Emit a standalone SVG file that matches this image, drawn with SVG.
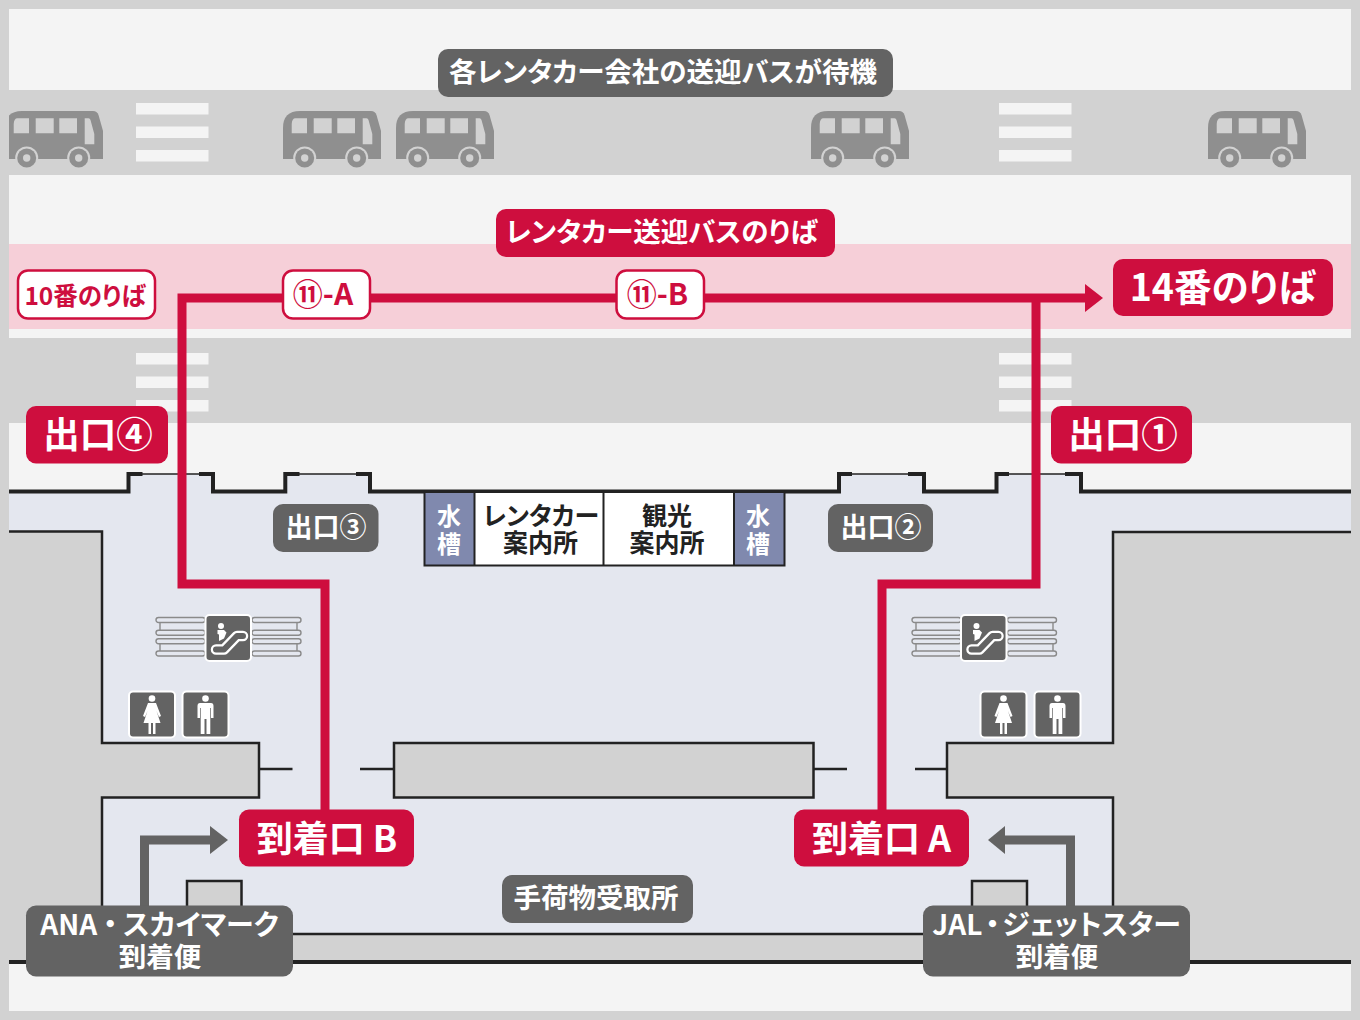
<svg xmlns="http://www.w3.org/2000/svg" width="1360" height="1020" viewBox="0 0 1360 1020">
<style>
text{font-family:"Noto Sans CJK JP","Noto Sans",sans-serif;font-weight:700;text-anchor:middle;fill:#fff;font-feature-settings:"palt"}
.red{fill:#ce0e3e}.gr{fill:#636363}
.tag{fill:#ce0e3e}
.wh{fill:#fff;stroke:#ce0e3e;stroke-width:2.5}
.stripe{fill:#f4f4f4}
.road{fill:#d2d2d2}
.wall{fill:#d2d2d2;stroke:#222;stroke-width:2.5}
.nofill{fill:#d2d2d2;stroke:none}
.thin{fill:none;stroke:#222;stroke-width:2.500}
.thick{fill:none;stroke:#222;stroke-width:4}
.door{fill:none;stroke:#222;stroke-width:1.500}
.rl{fill:none;stroke:#ce0e3e;stroke-width:9;stroke-linejoin:miter}
.gl{fill:none;stroke:#636363;stroke-width:9}
.rail{fill:#e4e7ef;stroke:#8a8a8a;stroke-width:1.400}
.ink{fill:#222}
</style>
<defs>
<clipPath id="frame"><rect x="9" y="9" width="1342" height="1002"/></clipPath>
<g id="bus">
<path fill="#8f8f8f" d="M0 159V128Q0 111 17 111H88Q92 111 93.500 115L98 131V159Z"/>
<path fill="#d2d2d2" d="M12.500 118.300H24V133.300H8.700V124Q9 118.300 12.500 118.300ZM30.700 118.300H48.700V133.300H30.700ZM54.300 118.300H72V133.300H54.300ZM79.700 118.300H83.500Q85 118.300 85.500 120L89.300 134V144.300H79.700Z"/>
<circle cx="21.700" cy="158" r="11.500" fill="#d2d2d2"/><circle cx="21.700" cy="158" r="9.500" fill="#8f8f8f"/><circle cx="21.700" cy="158" r="3.700" fill="#d2d2d2"/>
<circle cx="73.700" cy="158" r="11.500" fill="#d2d2d2"/><circle cx="73.700" cy="158" r="9.500" fill="#8f8f8f"/><circle cx="73.700" cy="158" r="3.700" fill="#d2d2d2"/>
</g>
<g id="xing"><rect class="stripe" x="0" y="0" width="72.500" height="11.500"/><rect class="stripe" x="0" y="23.500" width="72.500" height="11.500"/><rect class="stripe" x="0" y="47" width="72.500" height="11.500"/></g>
<g id="bars">
<rect class="rail" x="0.500" y="617.500" width="49" height="5" rx="2.500"/><rect class="rail" x="0.500" y="630.200" width="49" height="5" rx="2.500"/><rect class="rail" x="0.500" y="638.700" width="49" height="5" rx="2.500"/><rect class="rail" x="0.500" y="651" width="49" height="5" rx="2.500"/>
</g>
<g id="esc">
<rect x="0" y="615" width="45.500" height="46" rx="4" fill="#636363" stroke="#fff" stroke-width="2"/>
<circle cx="15.500" cy="626" r="3" fill="#fff"/>
<path fill="#fff" d="M12 630H18.500L21 632.500 18.500 638.500 13.500 641V634.500L12 634Z"/>
<path d="M10.500 649.500H18.500L31.500 636H37.500" fill="none" stroke="#fff" stroke-width="10.500" stroke-linecap="round" stroke-linejoin="round"/>
<path d="M10.500 649.500H18.500L31.500 636H37.500" fill="none" stroke="#636363" stroke-width="6" stroke-linecap="round" stroke-linejoin="round"/>
</g>
<g id="woman">
<rect x="0" y="691.500" width="46" height="46" rx="4" fill="#636363" stroke="#fff" stroke-width="2"/>
<circle cx="23" cy="698.500" r="3.300" fill="#fff"/>
<path fill="#fff" d="M19 703H27L32 716 30 717 27.500 711 31.500 723H26.500V734H24V723H22V734H19.500V723H14.500L18.500 711 16 717 14 716Z"/>
</g>
<g id="man">
<rect x="0" y="691.500" width="46" height="46" rx="4" fill="#636363" stroke="#fff" stroke-width="2"/>
<circle cx="23" cy="698.500" r="3.300" fill="#fff"/>
<path fill="#fff" d="M17.500 703H28.500Q31 703 31 706V718H28.500V708H27.800V734H24V719H22V734H18.200V708H17.500V718H15V706Q15 703 17.500 703Z"/>
</g>
</defs>

<rect width="1360" height="1020" fill="#d2d2d2"/>
<g id="ground" clip-path="url(#frame)">
<rect x="9" y="9" width="1342" height="1002" fill="#f4f4f4"/>
<rect x="9" y="90" width="1342" height="85" class="road"/>
<rect x="9" y="244" width="1342" height="85" fill="#f6cfd8"/>
<rect x="9" y="338" width="1342" height="85" class="road"/>
<use href="#xing" x="136" y="103"/><use href="#xing" x="999" y="103"/>
<use href="#xing" x="136" y="353"/><use href="#xing" x="999" y="353"/>
<use href="#bus" x="5"/><use href="#bus" x="283"/><use href="#bus" x="396"/><use href="#bus" x="811"/><use href="#bus" x="1208"/>
</g>

<g id="floor" clip-path="url(#frame)">
<path fill="#e4e7ef" d="M9 491.500H128.500V474H213V491.500H285.300V474H370V491.500H839V474H924V491.500H996.500V474H1081V491.500H1351V962H9Z"/>
<path class="nofill" d="M9 531.500H102V743H259V797.500H102V962H9Z"/>
<path class="thin" d="M9 531.500H102V743H259V797.500H102V962"/>
<path class="nofill" d="M1351 532H1113V743H947V797.500H1113V962H1351Z"/>
<path class="thin" d="M1351 532H1113V743H947V797.500H1113V962"/>
<rect class="wall" x="394" y="743" width="419.500" height="54.500"/>
<path class="thin" d="M259 769H292.500M360 769H394M813.500 769H847M915 769H947"/>
<rect class="wall" x="187" y="881" width="54.500" height="55"/>
<rect class="wall" x="972" y="881" width="55" height="55"/>
<rect x="102" y="934" width="1011" height="28" class="road"/>
<path class="thin" d="M102 934H1113"/>
<path class="thick" d="M9 962H1351"/>
<path class="thick" d="M9 491.500H128.500V474H142.500M199 474H213V491.500H285.300V474H299.500M356 474H370V491.500H839V474H852M908 474H924V491.500H996.500V474H1009M1065 474H1081V491.500H1351"/>
<path class="door" d="M142 474H199M299 474H356M852 474H908M1009 474H1065"/>
</g>

<g id="desk">
<rect x="424.500" y="493" width="50" height="72.500" fill="#8089ae"/>
<rect x="734" y="493" width="50.500" height="72.500" fill="#8089ae"/>
<rect x="474.500" y="493" width="129" height="72.500" fill="#fff"/>
<rect x="603.500" y="493" width="130.500" height="72.500" fill="#fff"/>
<path class="thin" style="stroke-width:2" d="M424.500 493V565.500H784.500V493M474.500 493V565.500M603.500 493V565.500M734 493V565.500"/>
<text x="449" y="525" font-size="24">水</text><text x="449" y="553" font-size="24">槽</text>
<text x="758" y="525" font-size="24">水</text><text x="758" y="553" font-size="24">槽</text>
<text class="ink" x="541" y="525" font-size="25">レンタカー</text><text class="ink" x="540.500" y="552" font-size="25">案内所</text>
<text class="ink" x="667" y="525" font-size="25">観光</text><text class="ink" x="667" y="552" font-size="25">案内所</text>
</g>

<g id="connectors">
<path class="rl" d="M325 812V584H182V298H1086"/>
<path class="rl" d="M882 812V584H1036V298"/>
<path class="red" d="M1085 284L1103 298 1085 312Z"/>
<path class="gl" d="M144.500 908V840H211"/>
<path class="gr" d="M210 826L228 840 210 854Z"/>
<path class="gl" d="M1070.500 908V840H1004"/>
<path class="gr" d="M1005 826L988 840 1005 854Z"/>
</g>

<g id="escalator-left"><use href="#bars" x="155.500"/><use href="#bars" x="251.500"/><path class="rail" d="M160 622.500V630.200M160 643.700V651M297 622.500V630.200M297 643.700V651"/><use href="#esc" x="205.500"/></g>
<g id="escalator-right"><use href="#bars" x="911.500"/><use href="#bars" x="1007"/><path class="rail" d="M916 622.500V630.200M916 643.700V651M1053 622.500V630.200M1053 643.700V651"/><use href="#esc" x="961"/></g>
<g id="toilet-left"><use href="#woman" x="129"/><use href="#man" x="182.500"/></g>
<g id="toilet-right"><use href="#woman" x="980.500"/><use href="#man" x="1034.500"/></g>

<g id="n-shuttle-wait"><rect x="438" y="49" width="455" height="48" rx="10" class="gr"/><text x="663" y="82" font-size="27.500">各レンタカー会社の送迎バスが待機</text></g>
<g id="n-shuttle-stop"><rect x="496" y="209" width="339" height="48" rx="10" class="tag"/><text x="661.500" y="242" font-size="27.500">レンタカー送迎バスのりば</text></g>
<g id="n-stop-10"><rect x="18" y="270.500" width="137" height="48" rx="10" class="wh"/><text class="red" x="85" y="304.500" font-size="24.500">10番のりば</text></g>
<g id="n-stop-11a"><rect x="283" y="270.500" width="87" height="48" rx="10" class="wh"/><text class="red" x="323" y="305" font-size="30">⑪-A</text></g>
<g id="n-stop-11b"><rect x="616.500" y="270.500" width="87.500" height="48" rx="10" class="wh"/><text class="red" x="657.500" y="305" font-size="30">⑪-B</text></g>
<g id="n-stop-14"><rect x="1113" y="259" width="220" height="57" rx="10" class="tag"/><text x="1222.500" y="300.500" font-size="37.500">14番のりば</text></g>
<g id="n-exit4"><rect x="26" y="406" width="142" height="57.500" rx="10" class="tag"/><text x="98" y="447.500" font-size="36.500">出口④</text></g>
<g id="n-exit1"><rect x="1051" y="406" width="141" height="57.500" rx="10" class="tag"/><text x="1123" y="447.500" font-size="36.500">出口①</text></g>
<g id="n-exit3"><rect x="273" y="504" width="105.500" height="48" rx="10" class="gr"/><text x="326" y="537" font-size="27">出口③</text></g>
<g id="n-exit2"><rect x="828" y="504" width="105" height="48" rx="10" class="gr"/><text x="881" y="537" font-size="27">出口②</text></g>
<g id="n-arrB"><rect x="239" y="809.500" width="175" height="57" rx="10" class="tag"/><text x="327" y="851.500" font-size="36">到着口 B</text></g>
<g id="n-arrA"><rect x="794" y="809.500" width="175" height="57" rx="10" class="tag"/><text x="881.500" y="851.500" font-size="36">到着口 A</text></g>
<g id="n-baggage"><rect x="502" y="875" width="191" height="48" rx="10" class="gr"/><text x="596" y="908" font-size="27.500">手荷物受取所</text></g>
<g id="n-ana"><rect x="26" y="905.500" width="267" height="71" rx="10" class="gr"/><text x="159.500" y="935" font-size="28">ANA<tspan dx="6">・</tspan><tspan dx="6">スカイマーク</tspan></text><text x="160" y="967" font-size="27.500">到着便</text></g>
<g id="n-jal"><rect x="923" y="905.500" width="267" height="71" rx="10" class="gr"/><text x="1056.500" y="935" font-size="28">JAL<tspan dx="3">・</tspan><tspan dx="3">ジェットスター</tspan></text><text x="1057" y="967" font-size="27.500">到着便</text></g>
</svg>
